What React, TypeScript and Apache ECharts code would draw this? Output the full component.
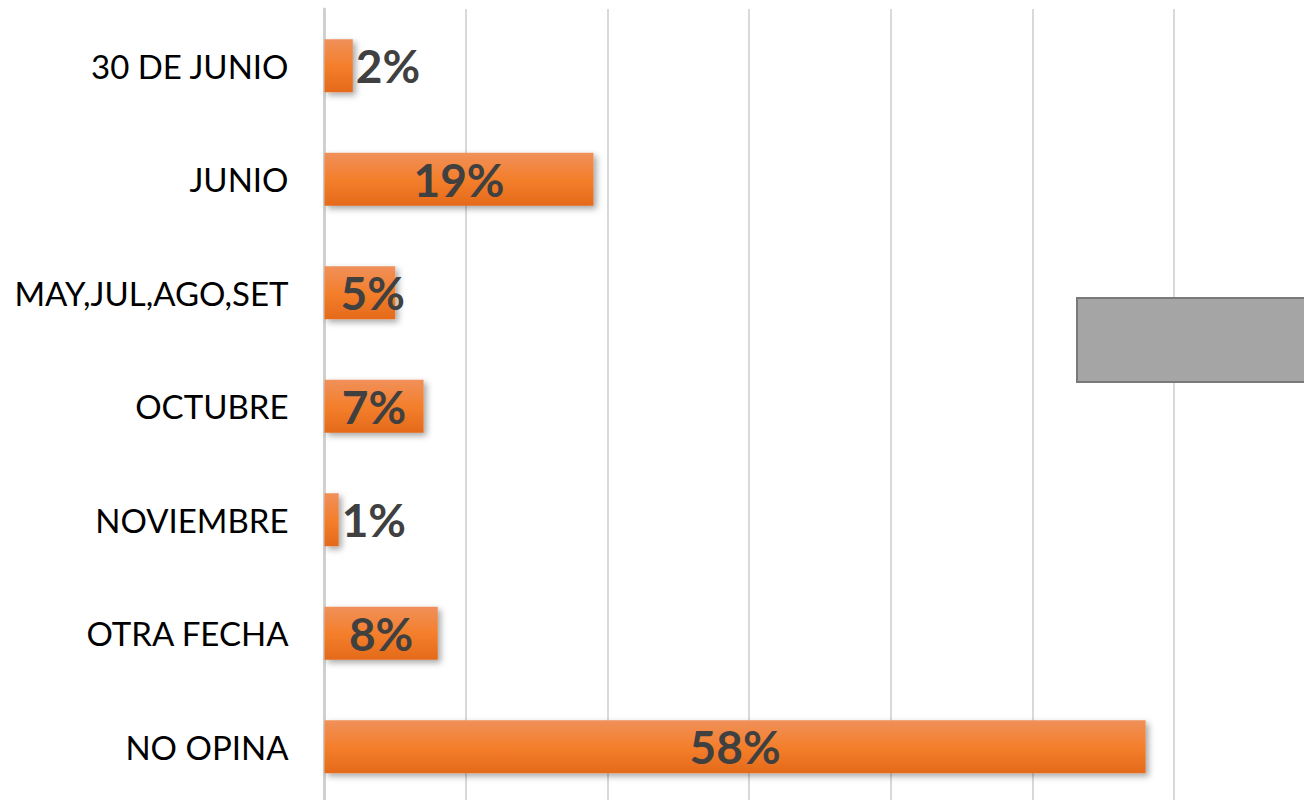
import React, { useEffect, useRef } from "react";
import * as echarts from "echarts";

const categories = [
  "30 DE JUNIO",
  "JUNIO",
  "MAY,JUL,AGO,SET",
  "OCTUBRE",
  "NOVIEMBRE",
  "OTRA FECHA",
  "NO OPINA",
];
const values = [2, 19, 5, 7, 1, 8, 58];
const valueLabels = ["2%", "19%", "5%", "7%", "1%", "8%", "58%"];
const xTicks = [0, 10, 20, 30, 40, 50, 60, 70];

function labelFor(v: number) {
  if (v < 3) return { position: "right", distance: 3 };
  if (v < 6) return { position: [16, "50%"], align: "left", verticalAlign: "middle" };
  return { position: "inside" };
}

export default function App() {
  const ref = useRef<HTMLDivElement>(null);
  useEffect(() => {
    if (!ref.current) return;
    const chart = echarts.init(ref.current, null, { renderer: "svg" });
    chart.setOption({
      animation: false,
      backgroundColor: "#ffffff",
      grid: { left: 324.5, top: 9, right: 4.5, bottom: 6.5, containLabel: false },
      xAxis: {
        type: "value",
        min: xTicks[0],
        max: xTicks[xTicks.length - 1],
        interval: 10,
        axisLabel: { show: false },
        axisTick: { show: false },
        axisLine: { show: false },
        splitLine: { show: true, lineStyle: { color: "#d9d9d9", width: 2 } },
      },
      yAxis: {
        type: "category",
        data: categories,
        inverse: true,
        axisTick: { show: false },
        axisLine: { show: true, lineStyle: { color: "#d0d0d0", width: 3 } },
        axisLabel: {
          margin: 36,
          fontFamily: "Lato",
          fontSize: 33,
          color: "#000000",
        },
        splitLine: { show: false },
      },
      series: [
        {
          type: "bar",
          barWidth: 53,
          data: values.map((v, i) => ({
            value: v,
            label: {
              show: true,
              formatter: valueLabels[i],
              fontFamily: "Lato",
              fontWeight: "bold",
              fontSize: 46,
              color: "#404040",
              ...labelFor(v),
            },
          })),
          itemStyle: {
            color: new echarts.graphic.LinearGradient(0, 0, 0, 1, [
              { offset: 0, color: "#f0905a" },
              { offset: 0.5, color: "#f47f2c" },
              { offset: 1, color: "#e46a1a" },
            ]),
            shadowBlur: 6,
            shadowColor: "rgba(0,0,0,0.35)",
            shadowOffsetX: 3,
            shadowOffsetY: 3,
          },
        },
      ],
      graphic: [
        {
          type: "rect",
          left: 1076,
          top: 297,
          z: 100,
          shape: { width: 260, height: 84 },
          style: { fill: "#a5a5a5", stroke: "#7a7a7a", lineWidth: 2 },
        },
      ],
    });
    return () => chart.dispose();
  }, []);
  return (
    <div
      style={{
        position: "fixed",
        left: 0,
        top: 0,
        width: 1304,
        height: 800,
        overflow: "hidden",
        background: "#fff",
      }}
    >
      <div ref={ref} style={{ width: 1320, height: 810 }} />
    </div>
  );
}
